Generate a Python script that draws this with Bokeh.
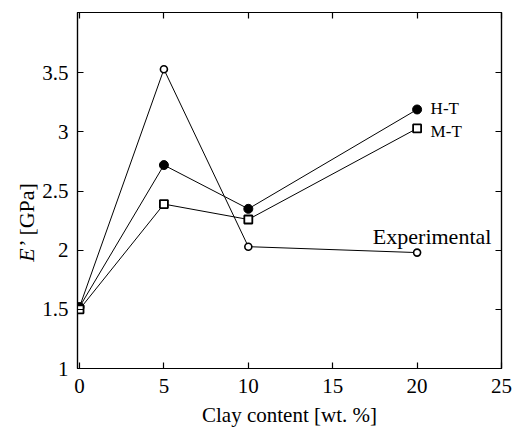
from bokeh.plotting import figure
from bokeh.models import Range1d, LinearAxis, FixedTicker, Label
from bokeh.layouts import row
from bokeh.embed import file_html
from bokeh.resources import INLINE
import math

# ---- data ----
clay = [0, 5, 10, 20]
experimental = [1.52, 3.53, 2.03, 1.98]
ht = [1.52, 2.72, 2.35, 3.19]
mt = [1.50, 2.39, 2.26, 3.03]

x_ticks = [0, 5, 10, 15, 20, 25]
x_tick_labels = ["0", "5", "10", "15", "20", "25"]
y_ticks = [1, 1.5, 2, 2.5, 3, 3.5]
y_tick_labels = ["1", "1.5", "2", "2.5", "3", "3.5"]

x_title = "Clay content [wt. %]"
y_title_italic = "E"
y_title_rest = "\u2019 [GPa]"

FONT = "Liberation Serif"
TITLE_W = 39
W, H = 516, 430

p = figure(width=W - TITLE_W, height=H, output_backend="svg", toolbar_location=None,
           x_range=Range1d(-0.12, 25), y_range=Range1d(1, 4.01),
           min_border_left=75 - TITLE_W, min_border_right=15, min_border_top=12,
           min_border_bottom=62)
p.grid.visible = False
p.outline_line_color = "black"
p.outline_line_width = 1.2
p.background_fill_color = "white"
p.border_fill_color = "white"

def style_axis(ax, ticks, labels=None, show_labels=True):
    ax.ticker = FixedTicker(ticks=ticks)
    ax.minor_tick_line_color = None
    ax.major_tick_in = 6
    ax.major_tick_out = 0
    ax.major_tick_line_color = "black"
    ax.major_tick_line_width = 1.2
    ax.axis_line_color = "black"
    ax.axis_line_width = 1.2
    if show_labels:
        ax.major_label_text_font = FONT
        ax.major_label_text_font_size = "21px"
        ax.major_label_text_color = "black"
        if labels is not None:
            ax.major_label_overrides = {t: l for t, l in zip(ticks, labels)}
    else:
        ax.major_label_text_font_size = "0px"
        ax.major_label_standoff = 0
        ax.major_label_text_color = None

style_axis(p.xaxis[0], x_ticks, x_tick_labels)
p.xaxis[0].major_label_standoff = 10
p.xaxis[0].axis_label = x_title
p.xaxis[0].axis_label_text_font = FONT
p.xaxis[0].axis_label_text_font_size = "21px"
p.xaxis[0].axis_label_text_font_style = "normal"
p.xaxis[0].axis_label_text_color = "black"
p.xaxis[0].axis_label_standoff = 7
style_axis(p.yaxis[0], y_ticks, y_tick_labels)
p.yaxis[0].major_label_standoff = 9

top = LinearAxis()
style_axis(top, x_ticks, show_labels=False)
p.add_layout(top, "above")
right = LinearAxis()
style_axis(right, y_ticks, show_labels=False)
p.add_layout(right, "right")

# ---- series ----
p.line(clay, experimental, line_color="black", line_width=1)
p.line(clay, ht, line_color="black", line_width=1)
p.line(clay, mt, line_color="black", line_width=1)
p.scatter(clay, experimental, marker="circle", size=7, fill_color="white",
          line_color="black", line_width=1.6)
p.scatter(clay, ht, marker="circle", size=9, fill_color="black", line_color="black")
p.scatter(clay, mt, marker="square", size=8, fill_color="white",
          line_color="black", line_width=1.8)

# ---- annotations ----
p.add_layout(Label(x=20.8, y=3.20, text="H-T", text_font=FONT, text_font_size="17px",
                   text_color="black", text_baseline="alphabetic"))
p.add_layout(Label(x=20.8, y=3.00, text="M-T", text_font=FONT, text_font_size="17px",
                   text_color="black", text_baseline="alphabetic"))
p.add_layout(Label(x=24.4, y=2.12, text="Experimental", text_font=FONT, text_font_size="22px",
                   text_color="black", text_align="right", text_baseline="alphabetic"))

# ---- y-axis title in a narrow side panel (figure) ----
t = figure(width=TITLE_W, height=H, output_backend="svg", toolbar_location=None,
           x_range=Range1d(0, TITLE_W), y_range=Range1d(0, H),
           x_axis_location=None, y_axis_location=None,
           min_border_left=0, min_border_right=0, min_border_top=0, min_border_bottom=0)
t.grid.visible = False
t.outline_line_color = None
t.background_fill_color = "white"
t.border_fill_color = "white"
t.add_layout(Label(x=26, y=H - 301, text=y_title_italic,
                   text_font=FONT, text_font_size="22px", text_font_style="italic",
                   text_color="black", angle=math.pi / 2,
                   text_align="left", text_baseline="middle"))
t.add_layout(Label(x=26, y=H - 283, text=y_title_rest,
                   text_font=FONT, text_font_size="22px",
                   text_color="black", angle=math.pi / 2,
                   text_align="left", text_baseline="middle"))

layout = row(t, p, spacing=0)
open("out.html", "w").write(file_html(layout, INLINE))
